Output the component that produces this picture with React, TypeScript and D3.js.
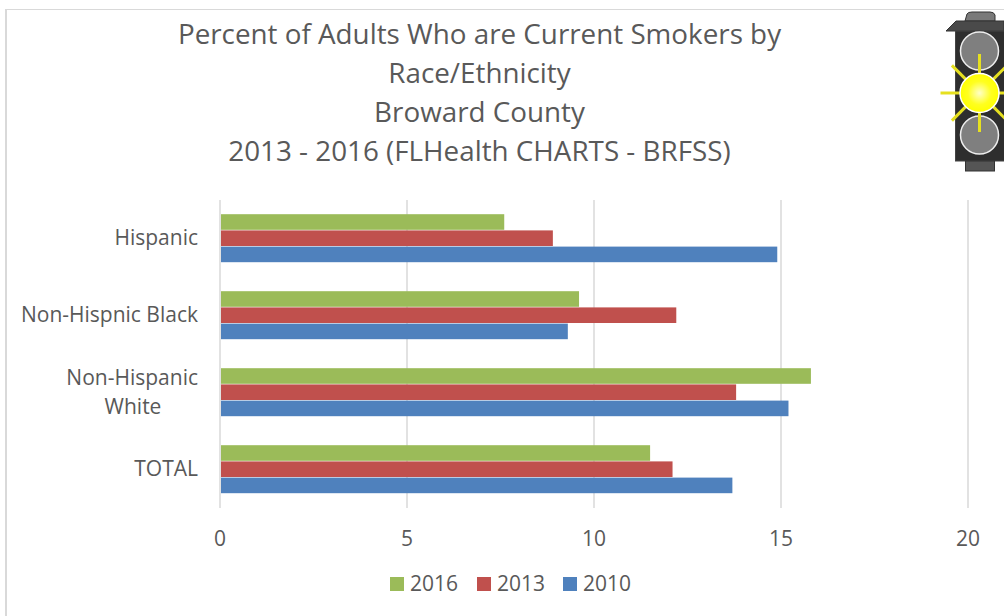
import React from "react";
import * as d3 from "d3";

const categories = ["Hispanic", "Non-Hispnic Black", "Non-Hispanic White", "TOTAL"];
const years = ["2016", "2013", "2010"];
const values2016 = [7.6, 9.6, 15.8, 11.5];
const values2013 = [8.9, 12.2, 13.8, 12.1];
const values2010 = [14.9, 9.3, 15.2, 13.7];
const colors = ["#9BBB59", "#C0504D", "#4F81BD"];
const xTicks = [0, 5, 10, 15, 20];
const titleLines = [
  "Percent of Adults Who are Current Smokers by",
  "Race/Ethnicity",
  "Broward County",
  "2013 - 2016 (FLHealth CHARTS - BRFSS)",
];
const FONT = "'Open Sans', sans-serif";
const TXT = "#595959";

export default function App() {
  const x = d3.scaleLinear().domain([0, 20]).range([220, 968]);
  const y = d3.scaleBand().domain(categories).range([200, 508]);
  const series = [values2016, values2013, values2010];
  const bh = 16.2;
  const rayAngles = d3.range(8).map((i) => (i * Math.PI) / 4);
  return (
    <svg
      width={1004}
      height={616}
      style={{ position: "fixed", left: 0, top: 0, background: "#fff", fontFamily: FONT }}
    >
      <defs>
        <radialGradient id="glow">
          <stop offset="0%" stopColor="#FFFFC8" />
          <stop offset="60%" stopColor="#FFFF20" />
          <stop offset="100%" stopColor="#FFFF00" />
        </radialGradient>
      </defs>
      <line x1={6} x2={6} y1={9} y2={616} stroke="#D9D9D9" strokeWidth={2} />
      <line x1={6} x2={1004} y1={9.5} y2={9.5} stroke="#D9D9D9" strokeWidth={1} />

      {titleLines.map((t, i) => (
        <text key={t} x={479.5} y={43.5 + i * 39} textAnchor="middle" fontSize={27.8} fill={TXT}>
          {t}
        </text>
      ))}

      {xTicks.map((t) => (
        <line key={t} x1={x(t)} x2={x(t)} y1={200} y2={508} stroke="#D9D9D9" strokeWidth={1.5} />
      ))}

      {categories.map((c, i) => {
        const cy = y(c)! + y.bandwidth() / 2;
        return series.map((s, j) => (
          <rect
            key={c + j}
            x={x(0) + 1}
            y={cy - 1.5 * bh + j * bh}
            width={x(s[i]) - x(0) - 1}
            height={bh - 0.6}
            fill={colors[j]}
          />
        ));
      })}

      <g fontSize={21} fill={TXT}>
        <text x={198} y={245} textAnchor="end">Hispanic</text>
        <text x={198} y={322} textAnchor="end">Non-Hispnic Black</text>
        <text x={198} y={385} textAnchor="end">Non-Hispanic</text>
        <text x={133} y={414} textAnchor="middle">White</text>
        <text x={198} y={476} textAnchor="end">TOTAL</text>
        {xTicks.map((t) => (
          <text key={t} x={x(t)} y={546} textAnchor="middle">{t}</text>
        ))}
        {years.map((yr, i) => {
          const lx = [390, 477, 563][i];
          return (
            <g key={yr}>
              <rect x={lx} y={577} width={14} height={14} fill={colors[i]} />
              <text x={lx + 20} y={591}>{yr}</text>
            </g>
          );
        })}
      </g>

      <g>
        <path d="M965 21 L967 14 Q968 12 972 12 L990 12 Q994 12 995 15 L995 21 Z" fill="#7A7A7A" stroke="#333" />
        <path d="M946 31 L956 21 L1004 21 L1004 31 Z" fill="#4A4A4A" stroke="#333" />
        <rect x={955.5} y={31} width={49} height={130} fill="#2E2E2E" stroke="#444" />
        <rect x={965.5} y={161} width={29} height={10} fill="#555" stroke="#333" />
        <circle cx={979.5} cy={51} r={19} fill="#7F7F7F" stroke="#EEE" strokeWidth={1.5} />
        <circle cx={979.5} cy={135} r={19} fill="#7F7F7F" stroke="#EEE" strokeWidth={1.5} />
        {rayAngles.map((a) => (
          <line
            key={a}
            x1={979.5 + 19 * Math.cos(a)}
            y1={93 + 19 * Math.sin(a)}
            x2={979.5 + 39 * Math.cos(a)}
            y2={93 + 39 * Math.sin(a)}
            stroke="#E6E020"
            strokeWidth={3}
          />
        ))}
        <circle cx={979.5} cy={93} r={19.5} fill="url(#glow)" stroke="#FFF" strokeWidth={1.5} />
      </g>
    </svg>
  );
}
